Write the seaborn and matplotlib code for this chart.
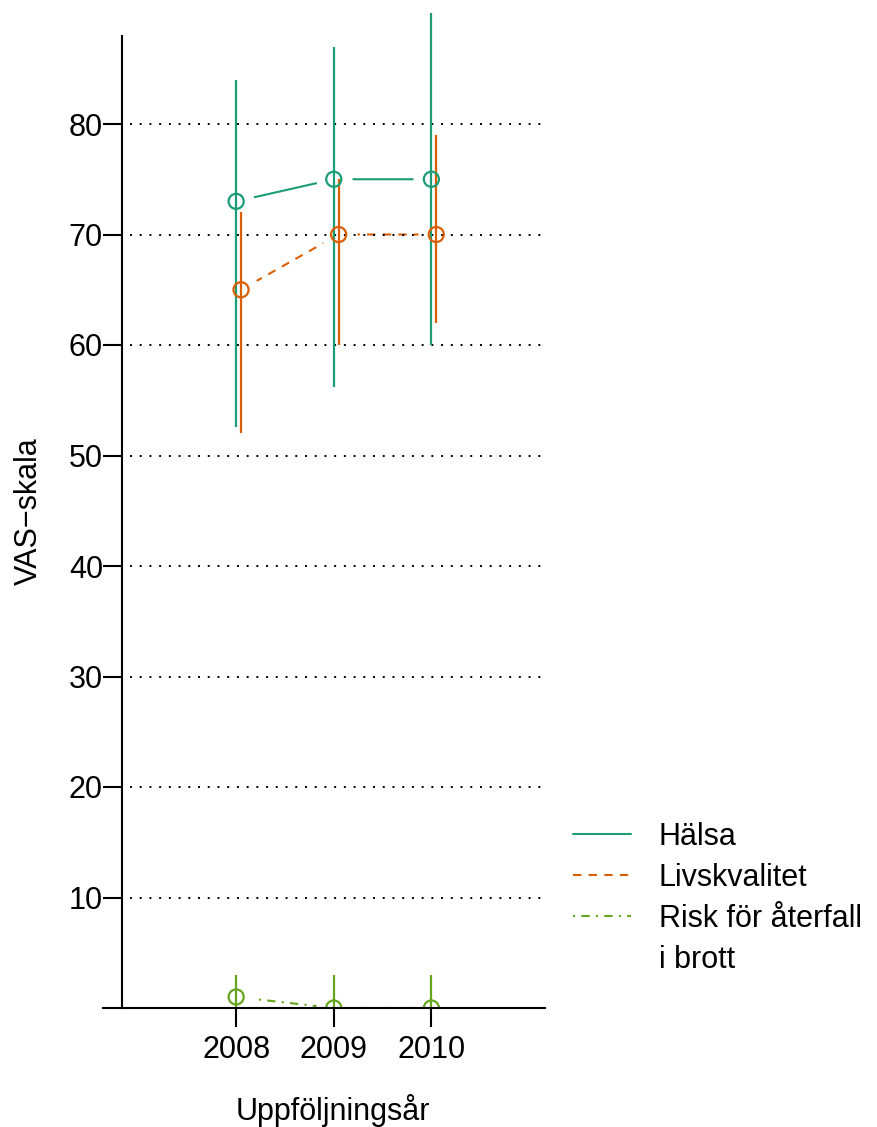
import matplotlib
matplotlib.use("Agg")
import matplotlib.pyplot as plt
from matplotlib.lines import Line2D
import numpy as np
import pandas as pd
import seaborn as sns

# Follow-up years and VAS-scale estimates with their ranges
years = [2008, 2009, 2010]
series_names = ["Hälsa", "Livskvalitet", "Risk för återfall"]
label_continuation = "i brott"

halsa = [73, 75, 75]
halsa_lo = [52.6, 56.2, 60]
halsa_hi = [84, 87, 90]

livskvalitet = [65, 70, 70]
livskvalitet_lo = [52, 60, 62]
livskvalitet_hi = [72, 75, 79]

risk = [1, 0, 0]
risk_lo = [0, 0, 0]
risk_hi = [3, 3, 3]

y_ticks = [10, 20, 30, 40, 50, 60, 70, 80]

sns.set_theme(style="white")
plt.rcParams["font.family"] = ["Liberation Sans", "DejaVu Sans"]
plt.rcParams["text.color"] = "black"

colors = ["#1B9E77", "#D95F02", "#66A61E"]
dashes = ["-", (0, (4, 3.5)), (0, (1, 3, 4, 3))]
x_shift = [0.0, 0.05, 0.0]

frames = []
for name, vals, lo, hi, dx in zip(
    series_names,
    [halsa, livskvalitet, risk],
    [halsa_lo, livskvalitet_lo, risk_lo],
    [halsa_hi, livskvalitet_hi, risk_hi],
    x_shift,
):
    frames.append(pd.DataFrame({
        "serie": name,
        "year": np.array(years, dtype=float) + dx,
        "value": vals,
        "lo": lo,
        "hi": hi,
    }))
df = pd.concat(frames, ignore_index=True)

W, H = 877, 1127
fig = plt.figure(figsize=(W / 100, H / 100), dpi=100)
ax = fig.add_axes([103 / W, 1 - 1008 / H, (545 - 103) / W, (1008 - 5) / H])

# connecting lines (kept clear of the points by white masks)
for i, name in enumerate(series_names):
    sub = df[df["serie"] == name]
    sns.lineplot(data=sub, x="year", y="value", ax=ax, color=colors[i],
                 lw=1.5, legend=False, zorder=1, estimator=None, sort=False)
    ax.lines[-1].set_linestyle(dashes[i])
    ax.plot(sub["year"], sub["value"], ls="none", marker="o", ms=26,
            mfc="white", mec="none", zorder=1.5)

# dotted reference lines
for t in y_ticks:
    ax.axhline(t, xmin=(130 - 103) / (545 - 103), xmax=1, color="black",
               lw=1.4, ls=(0, (1, 4)), zorder=1.8)

# ranges and open point markers
for i, name in enumerate(series_names):
    sub = df[df["serie"] == name]
    ax.vlines(sub["year"], sub["lo"], sub["hi"], color=colors[i], lw=1.6, zorder=3)
    sns.scatterplot(data=sub, x="year", y="value", ax=ax, marker="o", s=118,
                    facecolor="none", edgecolor=colors[i], linewidth=1.6,
                    legend=False, zorder=4)

x_left = 2008 - (236 - 103) / 97.5
x_right = 2010 + (545 - 431.5) / 97.5
ax.set_xlim(x_left, x_right)
ax.set_ylim(0, (1008 - 5) / 11.05)

for s in ["top", "right"]:
    ax.spines[s].set_visible(False)
ax.spines["left"].set_position(("data", 2008 - (236 - 122) / 97.5))
ax.spines["left"].set_bounds(0, 88)
for s in ["left", "bottom"]:
    ax.spines[s].set_color("black")
    ax.spines[s].set_linewidth(1.5)
    ax.spines[s].set_zorder(5)

ax.set_xticks(years)
ax.set_xticklabels([str(y) for y in years])
ax.set_yticks(y_ticks)
ax.set_yticklabels([str(t) for t in y_ticks])
ax.tick_params(axis="both", direction="out", length=13.7, width=1.5,
               color="black", labelsize=22, labelcolor="black", left=True, bottom=True)
ax.tick_params(axis="y", pad=0)
ax.tick_params(axis="x", pad=6)

ax.set_xlabel("Uppföljningsår", fontsize=22, color="black")
ax.xaxis.set_label_coords((333 - 103) / (545 - 103), -(1094 - 1008) / (1008 - 5))
ax.set_ylabel("VAS\u2212skala", fontsize=22, color="black")
ax.yaxis.set_label_coords(-(103 - 44) / (545 - 103), (1008 - 511) / (1008 - 5))
ax.grid(False)

handles = [Line2D([], [], color=colors[i], lw=1.5, ls=dashes[i]) for i in range(3)]
handles.append(Line2D([], [], color="none", lw=0))
leg = fig.legend(handles, series_names + [label_continuation], loc="upper left",
                 bbox_to_anchor=(573 / W, 1 - 822 / H), frameon=False,
                 fontsize=22, handlelength=1.9, handletextpad=0.9,
                 labelspacing=0.36, borderpad=0, borderaxespad=0,
                 labelcolor="black")

fig.savefig("out.png", dpi=100, facecolor="white")
